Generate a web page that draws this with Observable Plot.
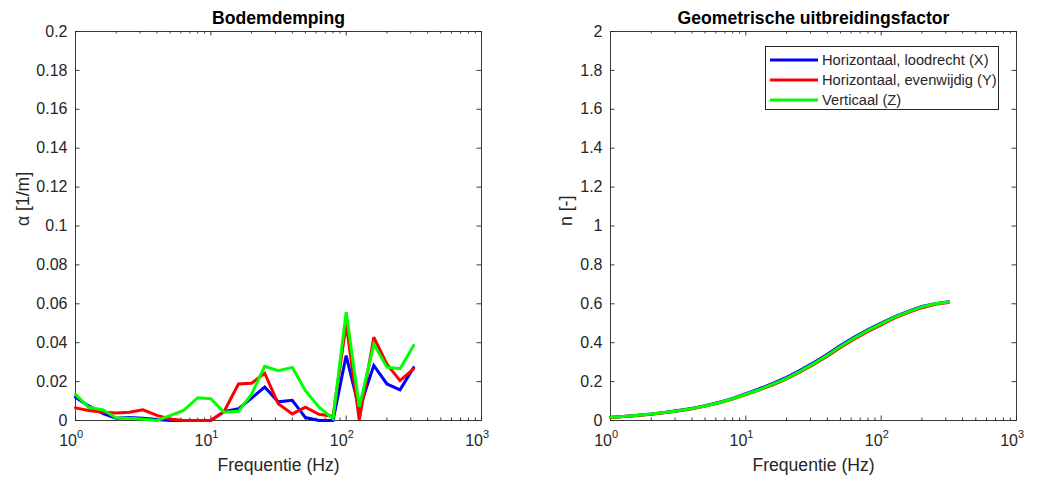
<!DOCTYPE html>
<html>
<head>
<meta charset="utf-8">
<script src="https://cdn.jsdelivr.net/npm/d3@7"></script>
<script src="https://cdn.jsdelivr.net/npm/@observablehq/plot@0.6"></script>
<style>
  html, body { margin: 0; padding: 0; background: #fff; }
  #wrap { position: relative; width: 1039px; height: 478px; font-family: "Liberation Sans", Arial, Helvetica, sans-serif; }
  .panel { position: absolute; top: 0; }
  #legend { position: absolute; left: 765px; top: 46px; width: 234px; height: 64px; border: 1px solid #262626; background: #fff; box-sizing: border-box; font-size: 14.7px; color: #262626; }
  .row { position: absolute; left: 4px; height: 20px; display: flex; align-items: center; white-space: nowrap; }
  .row svg { margin-right: 4px; }
</style>
</head>
<body>
<div id="wrap">
  <div id="left" class="panel" style="left:0px"></div>
  <div id="right" class="panel" style="left:520px"></div>
  <div id="legend"></div>
</div>
<script>
// ---- data ----
const freqs = [1, 1.25, 1.6, 2, 2.5, 3.15, 4, 5, 6.3, 8, 10, 12.5, 16, 20, 25, 31.5, 40, 50, 63, 80, 100, 125, 160, 200, 250, 315];
const seriesNames = ["Horizontaal, loodrecht (X)", "Horizontaal, evenwijdig (Y)", "Verticaal (Z)"];
const seriesColors = ["#0000ff", "#ff0000", "#00ff00"];

const alphaX = [0.012, 0.0075, 0.0035, 0.0012, 0.0015, 0.0012, 0.0005, 0, 0, 0, 0, 0.0045, 0.006, 0.0115, 0.0172, 0.0096, 0.0104, 0.0015, 0, 0, 0.0334, 0.0058, 0.0283, 0.0188, 0.0158, 0.0272];
const alphaY = [0.0065, 0.0051, 0.0043, 0.0038, 0.0042, 0.0055, 0.0026, 0.0008, 0, 0, 0, 0.0045, 0.0188, 0.0192, 0.0243, 0.0086, 0.0034, 0.0069, 0.0032, 0.0022, 0.0497, 0.0002, 0.0428, 0.029, 0.0205, 0.0266];
const alphaZ = [0.0134, 0.0068, 0.0055, 0.0013, 0.0012, 0.0006, 0, 0.0025, 0.0052, 0.0117, 0.0112, 0.0042, 0.0047, 0.0135, 0.0278, 0.0256, 0.0273, 0.0153, 0.0068, 0.001, 0.0557, 0.0069, 0.0393, 0.0274, 0.0266, 0.0386];

const nX = [0.017, 0.021, 0.027, 0.033, 0.041, 0.051, 0.062, 0.076, 0.093, 0.114, 0.138, 0.162, 0.192, 0.222, 0.257, 0.296, 0.341, 0.385, 0.428, 0.467, 0.501, 0.533, 0.562, 0.586, 0.601, 0.610];
const nY = [0.016, 0.020, 0.026, 0.032, 0.040, 0.049, 0.060, 0.074, 0.090, 0.110, 0.133, 0.156, 0.185, 0.214, 0.248, 0.287, 0.331, 0.375, 0.418, 0.458, 0.492, 0.526, 0.556, 0.580, 0.597, 0.607];
const nZ = [0.017, 0.021, 0.027, 0.033, 0.041, 0.050, 0.061, 0.075, 0.091, 0.112, 0.135, 0.158, 0.188, 0.217, 0.252, 0.291, 0.336, 0.380, 0.423, 0.463, 0.497, 0.530, 0.560, 0.584, 0.600, 0.609];

const decades = [1, 10, 100, 1000];
const decadeExp = ["0", "1", "2", "3"];
const minorTicks = [2,3,4,5,6,7,8,9,20,30,40,50,60,70,80,90,200,300,400,500,600,700,800,900];
const yTicksLeft = [0, 0.02, 0.04, 0.06, 0.08, 0.1, 0.12, 0.14, 0.16, 0.18, 0.2];
const yTickLabelsLeft = ["0", "0.02", "0.04", "0.06", "0.08", "0.1", "0.12", "0.14", "0.16", "0.18", "0.2"];
const yTicksRight = [0, 0.2, 0.4, 0.6, 0.8, 1, 1.2, 1.4, 1.6, 1.8, 2];
const yTickLabelsRight = ["0", "0.2", "0.4", "0.6", "0.8", "1", "1.2", "1.4", "1.6", "1.8", "2"];

function toRows(arrs) {
  const rows = [];
  arrs.forEach((a, s) => a.forEach((v, i) => rows.push({f: freqs[i], v, s: seriesNames[s]})));
  return rows;
}

const INK = "#262626";
const H = 478, MT = 31, MB = 58;

function panel({width, ml, mr, yDomain, yTicks, yLabels, rows, title, ylabel, ylabelDx}) {
  const pw = width - ml - mr, ph = H - MT - MB;
  const tickLen = 4.5, minorLen = 2.5;
  return Plot.plot({
    width, height: H,
    marginLeft: ml, marginRight: mr, marginTop: MT, marginBottom: MB,
    style: {fontFamily: '"Liberation Sans", Arial, Helvetica, sans-serif', color: INK, background: "#fff", overflow: "visible"},
    x: {type: "log", domain: [1, 1000], axis: null},
    y: {domain: yDomain, axis: null},
    color: {domain: seriesNames, range: seriesColors},
    marks: [
      Plot.frame({stroke: INK, strokeWidth: 0.9}),
      // x major/minor ticks bottom/top (inward)
      Plot.tickX(decades, {x: d => d, insetTop: ph - tickLen, stroke: INK, strokeWidth: 0.9}),
      Plot.tickX(decades, {x: d => d, insetBottom: ph - tickLen, stroke: INK, strokeWidth: 0.9}),
      Plot.tickX(minorTicks, {x: d => d, insetTop: ph - minorLen, stroke: INK, strokeWidth: 0.9}),
      Plot.tickX(minorTicks, {x: d => d, insetBottom: ph - minorLen, stroke: INK, strokeWidth: 0.9}),
      // y ticks left/right (inward)
      Plot.tickY(yTicks, {y: d => d, insetRight: pw - tickLen, stroke: INK, strokeWidth: 0.9}),
      Plot.tickY(yTicks, {y: d => d, insetLeft: pw - tickLen, stroke: INK, strokeWidth: 0.9}),
      // data
      Plot.line(rows, {x: "f", y: "v", z: "s", stroke: "s", strokeWidth: 3, strokeLinejoin: "miter", strokeMiterlimit: 3}),
      // y tick labels
      Plot.text(yTicks, {y: d => d, text: (d, i) => yLabels[i], frameAnchor: "left", textAnchor: "end", lineAnchor: "middle", dx: -8, fontSize: 16, fill: INK}),
      // x tick labels 10^k
      Plot.text(decades, {x: d => d, text: () => "10", frameAnchor: "bottom", textAnchor: "end", lineAnchor: "middle", dx: 1.5, dy: 20, fontSize: 16, fill: INK}),
      Plot.text(decades, {x: d => d, text: (d, i) => decadeExp[i], frameAnchor: "bottom", textAnchor: "start", lineAnchor: "middle", dx: 1.5, dy: 14, fontSize: 11, fill: INK}),
      // axis labels and title
      Plot.text(["Frequentie (Hz)"], {text: d => d, frameAnchor: "bottom", lineAnchor: "middle", dy: 45, fontSize: 17.6, fill: INK}),
      Plot.text([ylabel], {text: d => d, frameAnchor: "left", lineAnchor: "middle", rotate: -90, dx: ylabelDx, fontSize: 17.6, fill: INK}),
      Plot.text([title], {text: d => d, frameAnchor: "top", lineAnchor: "middle", dy: -13, fontSize: 17.6, fontWeight: "bold", fill: "#000"})
    ]
  });
}

document.getElementById("left").append(panel({
  width: 520, ml: 75, mr: 39,
  yDomain: [0, 0.2], yTicks: yTicksLeft, yLabels: yTickLabelsLeft,
  rows: toRows([alphaX, alphaY, alphaZ]),
  title: "Bodemdemping", ylabel: "α [1/m]", ylabelDx: -52
}));
document.getElementById("right").append(panel({
  width: 519, ml: 90, mr: 23,
  yDomain: [0, 2], yTicks: yTicksRight, yLabels: yTickLabelsRight,
  rows: toRows([nX, nY, nZ]),
  title: "Geometrische uitbreidingsfactor", ylabel: "n [-]", ylabelDx: -44
}));

// legend
const leg = document.getElementById("legend");
seriesNames.forEach((name, i) => {
  const row = document.createElement("div");
  row.className = "row";
  row.style.top = (3 + i * 20) + "px";
  row.innerHTML = `<svg width="48" height="6"><line x1="0" y1="3" x2="48" y2="3" stroke="${seriesColors[i]}" stroke-width="3"/></svg><span>${name}</span>`;
  leg.append(row);
});
</script>
</body>
</html>
